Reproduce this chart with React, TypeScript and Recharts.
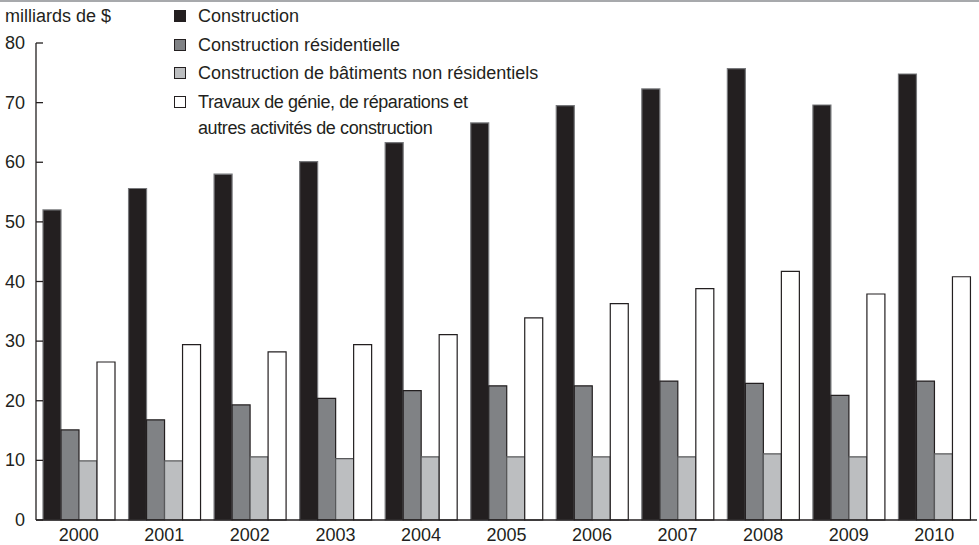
import { BarChart, Bar, XAxis, YAxis } from 'recharts';

const years = ['2000', '2001', '2002', '2003', '2004', '2005', '2006', '2007', '2008', '2009', '2010'];
const construction = [52.0, 55.6, 58.0, 60.1, 63.3, 66.6, 69.5, 72.3, 75.7, 69.6, 74.8];
const residentielle = [15.1, 16.8, 19.3, 20.4, 21.7, 22.5, 22.5, 23.3, 22.9, 20.9, 23.3];
const nonResidentiels = [9.9, 9.9, 10.6, 10.3, 10.6, 10.6, 10.6, 10.6, 11.1, 10.6, 11.1];
const genie = [26.5, 29.4, 28.2, 29.4, 31.1, 33.9, 36.3, 38.8, 41.7, 37.9, 40.8];
const yTicks = [0, 10, 20, 30, 40, 50, 60, 70, 80];

const data = years.map((year, i) => ({
  year,
  construction: construction[i],
  residentielle: residentielle[i],
  nonResidentiels: nonResidentiels[i],
  genie: genie[i],
}));

const INK = '#231f20';
const FONT = '"Liberation Sans", Arial, sans-serif';

const series = [
  { key: 'construction', label: ['Construction'], fill: INK, stroke: '#77787b' },
  { key: 'residentielle', label: ['Construction résidentielle'], fill: '#808285', stroke: INK },
  { key: 'nonResidentiels', label: ['Construction de bâtiments non résidentiels'], fill: '#bcbec0', stroke: '#58595b' },
  { key: 'genie', label: ['Travaux de génie, de réparations et', 'autres activités de construction'], fill: '#ffffff', stroke: INK },
];

// y ticks point inward (to the right of the axis line)
const YTick = ({ x, y, payload }: any) => (
  <g>
    <line x1={x} x2={x + 7} y1={y} y2={y} stroke={INK} strokeWidth={1.3} />
    <text x={x - 11} y={y} textAnchor="end" dominantBaseline="central" fill={INK} fontSize={18} fontFamily={FONT}>
      {payload.value}
    </text>
  </g>
);

const LegendBox = () => (
  <div style={{ position: 'absolute', left: 174, top: 2, fontFamily: FONT, fontSize: 18, color: INK }}>
    {series.map((s) => (
      <div key={s.key} style={{ display: 'flex', alignItems: 'flex-start', minHeight: 28.5 }}>
        <span
          style={{
            width: 12,
            height: 12,
            boxSizing: 'border-box',
            background: s.fill,
            border: `1px solid ${INK}`,
            marginTop: 8,
            marginRight: 12,
            flex: 'none',
          }}
        />
        <span style={{ lineHeight: s.label.length > 1 ? '26px' : '28.5px', marginTop: s.label.length > 1 ? 1 : 0, letterSpacing: s.label.length > 1 ? -0.4 : 0 }}>
          {s.label.map((l, i) => (
            <div key={i}>{l}</div>
          ))}
        </span>
      </div>
    ))}
  </div>
);

export default function App() {
  return (
    <div style={{ position: 'absolute', left: 0, top: 0, width: 979, height: 545, background: '#fff' }}>
      <BarChart
        width={979}
        height={545}
        data={data}
        margin={{ top: 43, right: 2, bottom: 0, left: 0 }}
        barCategoryGap={7}
        barGap={0}
      >
        <XAxis
          dataKey="year"
          height={25}
          axisLine={{ stroke: INK, strokeWidth: 1.5 }}
          tickLine={false}
          tickSize={0}
          tickMargin={8}
          tick={{ fill: INK, fontSize: 18, fontFamily: FONT }}
        />
        <YAxis
          width={36}
          domain={[0, 80]}
          ticks={yTicks}
          interval={0}
          axisLine={{ stroke: INK, strokeWidth: 1.3 }}
          tickLine={false}
          tickSize={0}
          tickMargin={0}
          tick={<YTick />}
        />
        {series.map((s) => (
          <Bar
            key={s.key}
            dataKey={s.key}
            name={s.label.join(' ')}
            fill={s.fill}
            stroke={s.stroke}
            strokeWidth={1.2}
            isAnimationActive={false}
          />
        ))}
      </BarChart>
      <div style={{ position: 'absolute', left: 0, top: 0, width: 979, height: 1.5, background: '#a7a9ac' }} />
      <div style={{ position: 'absolute', left: 5, top: 2, fontFamily: FONT, fontSize: 18, color: INK, lineHeight: '28px' }}>
        milliards de $
      </div>
      <LegendBox />
    </div>
  );
}
